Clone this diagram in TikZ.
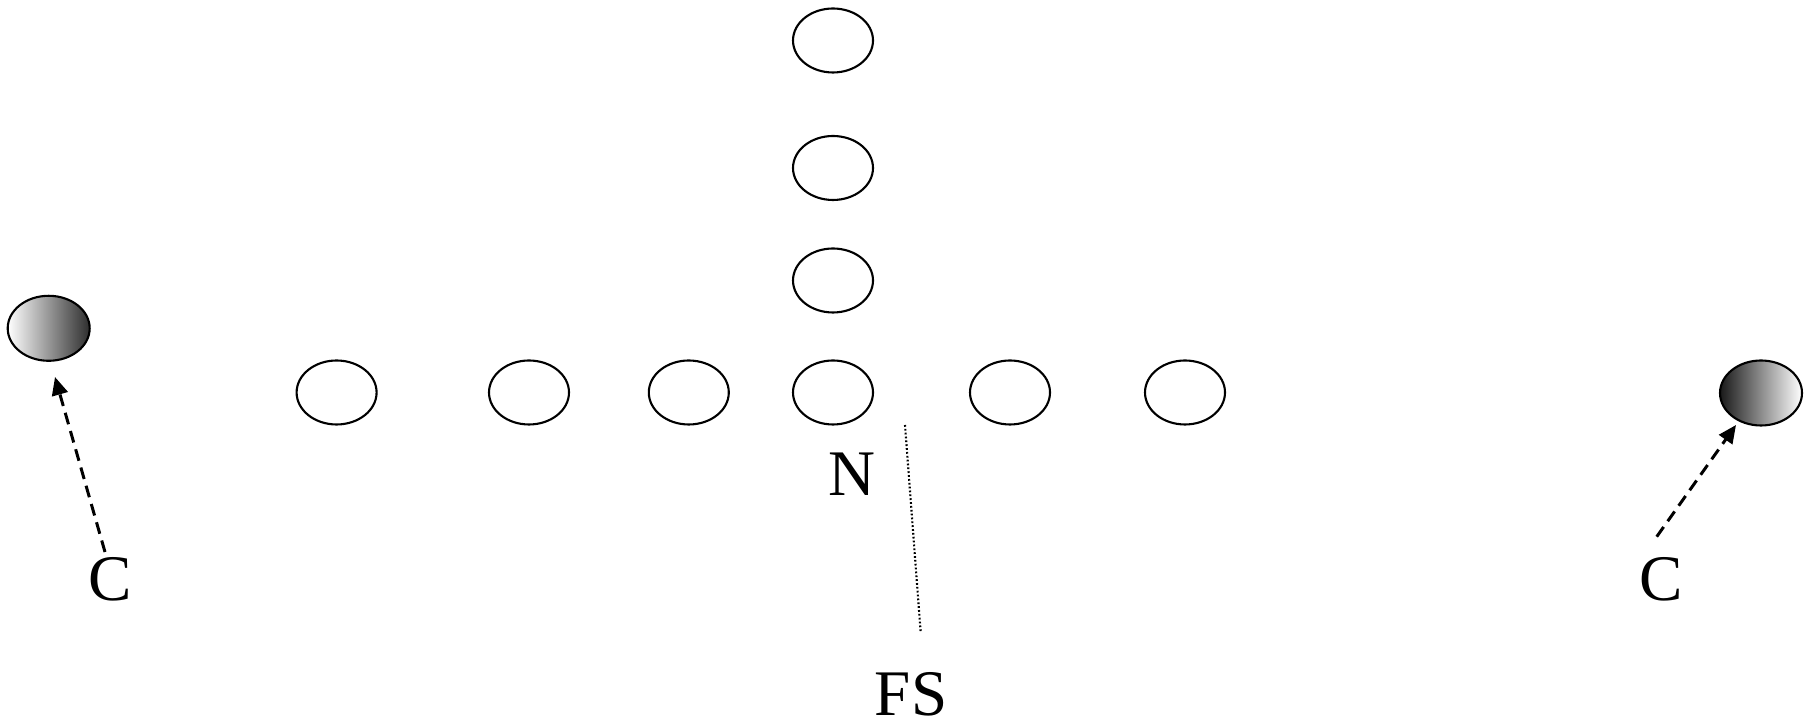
\documentclass[tikz,border=0pt]{standalone}
\usepackage{fontspec}
\setmainfont{Liberation Serif}
\usetikzlibrary{shapes.geometric,arrows.meta}
\begin{document}
\begin{tikzpicture}[x=0.1mm,y=-0.1mm,
  player/.style={ellipse,draw=black,line width=0.6pt,minimum width=8mm,minimum height=6.4mm,inner sep=0pt},
  shadedL/.style={player,minimum width=8.2mm,minimum height=6.5mm,shading=axis,left color=white,right color=black!82,shading angle=90},
  shadedR/.style={player,minimum width=8.2mm,minimum height=6.5mm,shading=axis,left color=black!90,right color=white,shading angle=90},
  lbl/.style={anchor=base,inner sep=0pt,font=\fontsize{18.5}{22}\selectfont},
  route/.style={line width=0.85pt,dash pattern=on 3.4pt off 2pt,-{Triangle[length=1.8mm,width=1.6mm]}},
  zone/.style={line width=0.6pt,dash pattern=on 0.5pt off 0.6pt}]
\useasboundingbox (0,0) rectangle (1811,725);
% vertical stack
\node[player] (v1) at (833,40.5) {};
\node[player] (v2) at (833,168) {};
\node[player] (v3) at (833,280.5) {};
% line of scrimmage row
\node[player] (r1) at (336.6,392.5) {};
\node[player] (r2) at (529,392.5) {};
\node[player] (r3) at (688.8,392.5) {};
\node[player] (r4) at (833,392.5) {};
\node[player] (r5) at (1010,392.5) {};
\node[player] (r6) at (1185,392.5) {};
% shaded receivers
\node[shadedL] (sl) at (48.7,328.3) {};
\node[shadedR] (sr) at (1761,393) {};
% labels
\node[lbl] (cl) at (110,601) {C};
\node[lbl] (cr) at (1661,601) {C};
\node[lbl] (n) at (851.5,496) {N};
\node[lbl] (fs) at (911,716) {FS};
% routes
\coordinate (clt) at (105,552);
\coordinate (clh) at (55,377);
\coordinate (crt) at (1656.7,536.7);
\coordinate (crh) at (1736,425);
\draw[route] (clt) -- (clh);
\draw[route] (crt) -- (crh);
% dotted zone line
\coordinate (za) at (905,425);
\coordinate (zb) at (920.7,632.7);
\draw[zone] (za) -- (zb);
\end{tikzpicture}
\end{document}
